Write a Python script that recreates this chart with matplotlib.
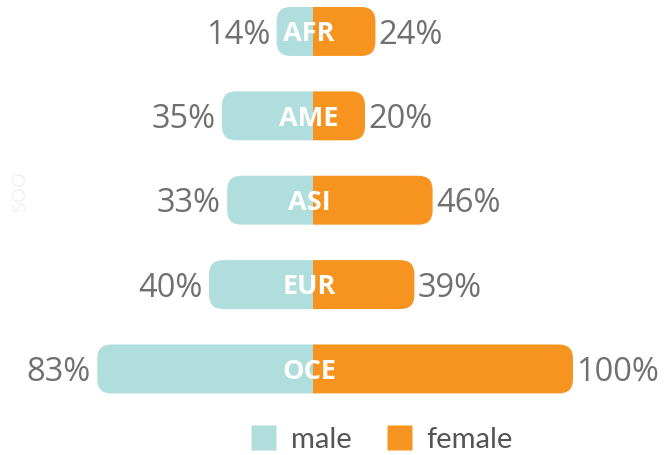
import matplotlib.pyplot as plt
from matplotlib.patches import FancyBboxPatch, Rectangle
from matplotlib.lines import Line2D

regions = ["AFR", "AME", "ASI", "EUR", "OCE"]
male = [14, 35, 33, 40, 83]
female = [24, 20, 46, 39, 100]

male_color = "#b0dedd"
female_color = "#f7941f"
text_color = "#707070"

fig = plt.figure(figsize=(6.71, 4.56), dpi=100)
ax = fig.add_axes([0, 0, 1, 1])
ax.set_xlim(-120.4, 137.7)
ax.set_ylim(5.02, -0.385)
ax.axis("off")

bar_h = 0.58
rad = 14 / 2.6                 # corner radius in x units
aspect = (14 / 84.4) / rad     # keep corners circular in pixels

for i, (name, m, f) in enumerate(zip(regions, male, female)):
    y0 = i - bar_h / 2
    # male side: rounded box running past centre, clipped at 0
    p = FancyBboxPatch((-m, y0), m + 2 * rad, bar_h,
                       boxstyle=f"round,pad=0,rounding_size={rad}",
                       mutation_aspect=aspect, fc=male_color, ec="none")
    ax.add_patch(p)
    p.set_clip_path(Rectangle((-200, -10), 200, 20, transform=ax.transData))
    # female side
    q = FancyBboxPatch((-2 * rad, y0), f + 2 * rad, bar_h,
                       boxstyle=f"round,pad=0,rounding_size={rad}",
                       mutation_aspect=aspect, fc=female_color, ec="none")
    ax.add_patch(q)
    q.set_clip_path(Rectangle((0, -10), 300, 20, transform=ax.transData))

    ax.text(-m - 2.4, i + 0.03, f"{m}%", ha="right", va="center",
            fontsize=23.5, color=text_color, family="Open Sans")
    ax.text(f + 1.3, i + 0.03, f"{f}%", ha="left", va="center",
            fontsize=23.5, color=text_color, family="Open Sans")
    ax.text(-1.5, i + 0.02, name, ha="center", va="center", fontsize=19.5,
            color="white", fontweight="bold", family="Open Sans")

# faint axis title
fig.text(0.03, 0.58, "SOO", rotation=90, ha="center", va="center",
         fontsize=14, color="#f0f0f0", family="Open Sans")

handles = [Line2D([], [], marker="s", ls="none", ms=18, mfc=male_color, mec="none"),
           Line2D([], [], marker="s", ls="none", ms=18, mfc=female_color, mec="none")]
leg = fig.legend(handles, ["male", "female"], loc="center", bbox_to_anchor=(0.5686, 0.035),
                 ncol=2, frameon=False, handlelength=0.9, handletextpad=0.5,
                 columnspacing=1.15, prop={"family": "Lato", "size": 21})
for t in leg.get_texts():
    t.set_color("#555555")

fig.savefig("out.png", dpi=100)
